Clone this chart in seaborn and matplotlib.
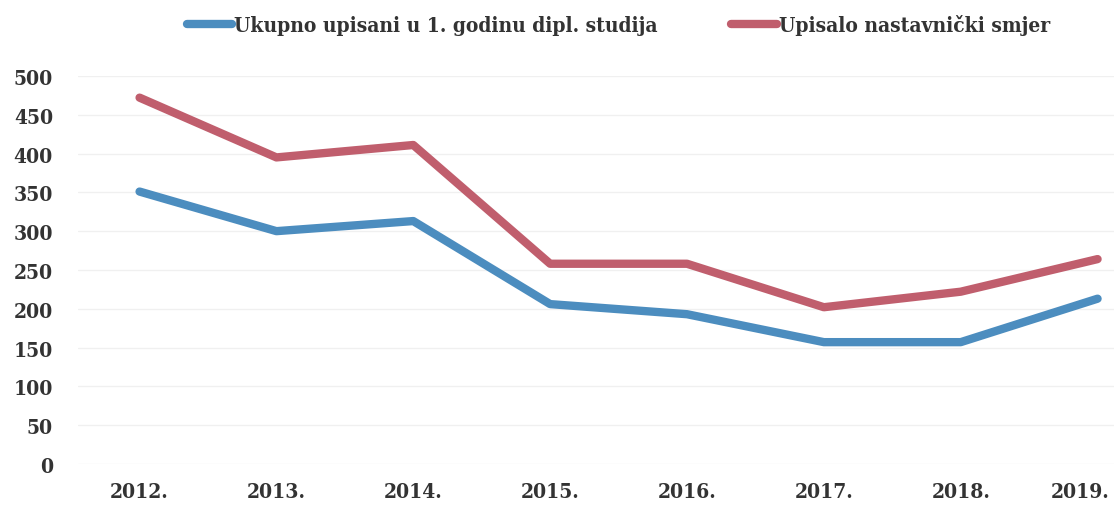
import pandas as pd
import matplotlib.pyplot as plt
import matplotlib.transforms as mtransforms
import seaborn as sns
from matplotlib.lines import Line2D

godine = ['2012.', '2013.', '2014.', '2015.', '2016.', '2017.', '2018.', '2019.']
ukupno = [351, 300, 313, 206, 193, 157, 157, 213]
nastavnicki = [472, 395, 411, 258, 258, 202, 222, 264]

serija_1 = 'Ukupno upisani u 1. godinu dipl. studija'
serija_2 = 'Upisalo nastavnički smjer'

df = pd.DataFrame({
    'godina': list(range(len(godine))) * 2,
    'broj': ukupno + nastavnicki,
    'serija': [serija_1] * len(godine) + [serija_2] * len(godine),
})

sns.set_style('white')
plt.rcParams['font.family'] = ['DejaVu Serif']
plt.rcParams['font.weight'] = 'bold'
plt.rcParams['font.stretch'] = 'condensed'

fig = plt.figure(figsize=(11.14, 5.06), dpi=100)
ax = fig.add_axes([0.07, 0.081, 0.93, 0.767])

sns.lineplot(data=df, x='godina', y='broj', hue='serija',
             palette=['#4c8dbf', '#c05e6d'], linewidth=6, ax=ax,
             legend=False)

ax.set_ylim(0, 500)
ax.set_yticks(range(0, 501, 50))
ax.set_xlim(-0.45, 7.12)
ax.set_xticks(range(len(godine)))
ax.set_xticklabels(godine)
ax.grid(axis='y', color='#f0f0f0', linewidth=1)
ax.tick_params(axis='both', labelsize=15, colors='#333333', length=0)
ax.tick_params(axis='x', pad=12)
ax.tick_params(axis='y', pad=18)
for t in ax.get_xticklabels() + ax.get_yticklabels():
    t.set_fontweight('bold')
# zadnja godina poravnata desno da ne bude odrezana
last = ax.get_xticklabels()[-1]
last.set_horizontalalignment('right')
last.set_transform(last.get_transform() +
                   mtransforms.ScaledTranslation(0.12, 0, fig.dpi_scale_trans))
ax.set_xlabel('')
ax.set_ylabel('')
sns.despine(ax=ax, left=True, bottom=True)

handles = [Line2D([], [], color='#4c8dbf', linewidth=6),
           Line2D([], [], color='#c05e6d', linewidth=6)]
fig.legend(handles, [serija_1, serija_2], loc='center', bbox_to_anchor=(0.555, 0.95),
           ncol=2, frameon=False, handlelength=2.2, handletextpad=0.1,
           columnspacing=3.5, prop={'size': 15, 'weight': 'bold', 'stretch': 'condensed'},
           labelcolor='#333333')

fig.savefig('out.png', dpi=100)
